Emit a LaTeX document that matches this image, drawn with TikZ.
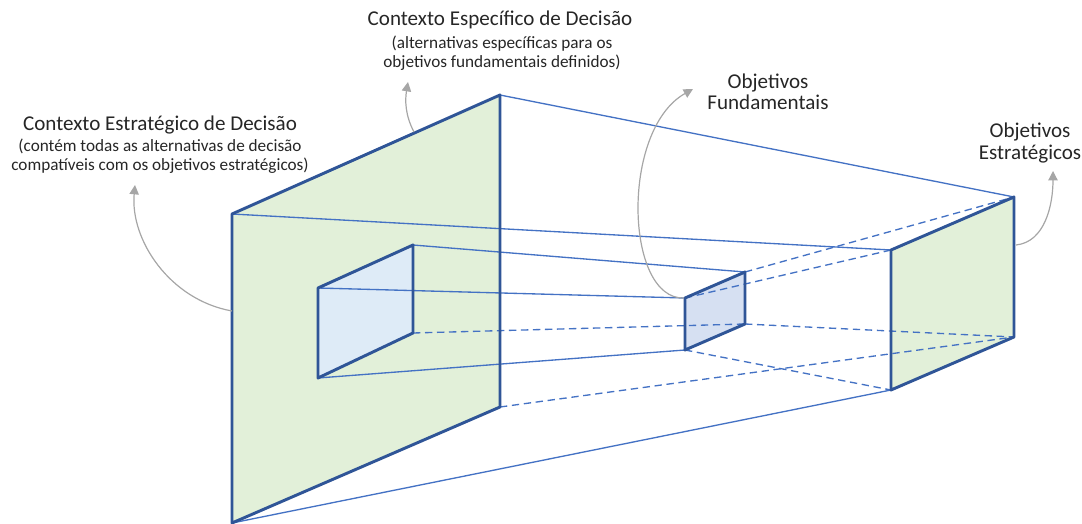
\documentclass[tikz,border=0pt]{standalone}
\usepackage{fontspec}
\setmainfont{Carlito}
\usetikzlibrary{arrows.meta}
\definecolor{edgeblue}{HTML}{2F5597}
\definecolor{thinblue}{HTML}{4472C4}
\definecolor{panelgreen}{HTML}{E2F0D9}
\definecolor{lightblue}{HTML}{DEEBF7}
\definecolor{midblue}{HTML}{D6E0F2}
\definecolor{arrowgray}{HTML}{A6A6A6}
\definecolor{txtgray}{HTML}{262626}
\begin{document}
\begin{tikzpicture}[x=0.75pt,y=-0.75pt,
  panelout/.style={draw=edgeblue,line width=2.2pt,line join=round},
  ray/.style={draw=thinblue,line width=1pt},
  dray/.style={draw=thinblue,line width=1pt,dash pattern=on 5.5pt off 3.5pt},
  callout/.style={draw=arrowgray,line width=0.9pt,-{Triangle[width=7pt,length=7pt]}},
  titletxt/.style={text=txtgray,font=\fontsize{15.8}{15.8}\selectfont,inner sep=0pt},
  subtxt/.style={text=txtgray,font=\fontsize{12.9}{14.2}\selectfont,align=center,inner sep=0pt}]
\useasboundingbox (0,0) rectangle (1082,524);
% corners
\coordinate (A1) at (232,214); \coordinate (A2) at (500,95);
\coordinate (A3) at (500,407); \coordinate (A4) at (232,523);
\coordinate (B1) at (318,288); \coordinate (B2) at (413,245);
\coordinate (B3) at (413,333); \coordinate (B4) at (318,378);
\coordinate (C1) at (685,298); \coordinate (C2) at (745,272);
\coordinate (C3) at (745,324); \coordinate (C4) at (685,350);
\coordinate (D1) at (891,250); \coordinate (D2) at (1014,197);
\coordinate (D3) at (1014,337); \coordinate (D4) at (891,390);
% fills
\fill[panelgreen] (A1) -- (A2) -- (A3) -- (A4) -- cycle;
\fill[panelgreen] (D1) -- (D2) -- (D3) -- (D4) -- cycle;
\fill[lightblue] (B1) -- (B2) -- (B3) -- (B4) -- cycle;
\fill[midblue] (C1) -- (C2) -- (C3) -- (C4) -- cycle;
% rays
\draw[ray] (A2) -- (D2);
\draw[ray] (A1) -- (D1);
\draw[ray] (A4) -- (D4);
\draw[ray] (B2) -- (C2);
\draw[ray] (B1) -- (C1);
\draw[ray] (B4) -- (C4);
\draw[dray] (B3) -- (C3);
\draw[dray] (C3) -- (D3);
\draw[dray] (A3) -- (D3);
\draw[dray] (C4) -- (D4);
\draw[dray] (C2) -- (D2);
\draw[dray] (C1) -- (D1);
% outlines
\draw[panelout] (A1) -- (A2) -- (A3) -- (A4) -- cycle;
\draw[panelout] (D1) -- (D2) -- (D3) -- (D4) -- cycle;
\draw[panelout] (B1) -- (B2) -- (B3) -- (B4) -- cycle;
\draw[panelout] (C1) -- (C2) -- (C3) -- (C4) -- cycle;
% labels
\node[titletxt] (t1) at (160,125) {Contexto Estratégico de Decisão};
\node[subtxt] (s1) at (160,156) {(contém todas as alternativas de decisão\\compatíveis com os objetivos estratégicos)};
\node[titletxt] (t2) at (500,20) {Contexto Específico de Decisão};
\node[subtxt] (s2) at (502,53) {(alternativas específicas para os\\objetivos fundamentais definidos)};
\node[titletxt,align=center,font=\fontsize{15.8}{15.8}\selectfont] (t3) at (768,92) {Objetivos\\Fundamentais};
\node[titletxt,align=center,font=\fontsize{15.8}{16.5}\selectfont] (t4) at (1030,143) {Objetivos\\Estratégicos};
% callouts
\coordinate (a1s) at (232,311); \coordinate (a1e) at (135,185);
\coordinate (a2s) at (414,132); \coordinate (a2e) at (408,82);
\coordinate (a3s) at (684,298); \coordinate (a3e) at (693,89);
\coordinate (a4s) at (1016,245); \coordinate (a4e) at (1053,171);
\draw[callout] (a1s) .. controls (170,300) and (130,240) .. (a1e);
\draw[callout] (a2s) .. controls (405,115) and (405,100) .. (a2e);
\draw[callout] (a3s) .. controls (625,300) and (620,130) .. (a3e);
\draw[callout] (a4s) .. controls (1045,242) and (1053,205) .. (a4e);
\end{tikzpicture}
\end{document}
